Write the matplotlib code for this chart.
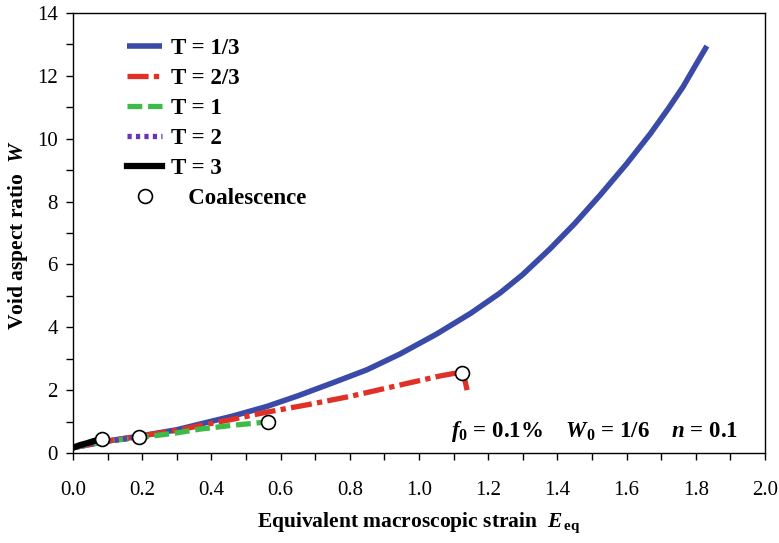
import matplotlib
matplotlib.use('Agg')
import matplotlib.pyplot as plt

plt.rcParams['font.family'] = 'Liberation Serif'
plt.rcParams['mathtext.fontset'] = 'custom'
plt.rcParams['mathtext.rm'] = 'Liberation Serif:bold'
plt.rcParams['mathtext.it'] = 'Liberation Serif:bold:italic'
plt.rcParams['mathtext.bf'] = 'Liberation Serif:bold'

# data
x13 = [0.0, 0.1, 0.2, 0.3, 0.367, 0.46, 0.56, 0.65, 0.75, 0.85, 0.945, 1.05, 1.15, 1.234,
       1.3, 1.379, 1.45, 1.523, 1.6, 1.668, 1.72, 1.763, 1.8, 1.832]
y13 = [0.17, 0.38, 0.55, 0.74, 0.92, 1.17, 1.48, 1.82, 2.23, 2.65, 3.15, 3.78, 4.45, 5.09,
       5.68, 6.5, 7.3, 8.2, 9.2, 10.15, 10.95, 11.65, 12.35, 12.95]
x23 = [0.0, 0.1, 0.2, 0.3, 0.367, 0.46, 0.56, 0.68, 0.8, 0.9, 1.0, 1.06, 1.1, 1.124]
y23 = [0.17, 0.38, 0.55, 0.72, 0.87, 1.07, 1.3, 1.54, 1.8, 2.05, 2.3, 2.45, 2.53, 2.55]
x23_drop = [1.124, 1.133, 1.139]
y23_drop = [2.55, 2.3, 2.0]
x1 = [0.0, 0.1, 0.2, 0.3, 0.367, 0.46, 0.564]
y1 = [0.17, 0.38, 0.5, 0.64, 0.76, 0.88, 0.99]
x2 = [0.0, 0.05, 0.1, 0.15, 0.19]
y2 = [0.17, 0.3, 0.38, 0.45, 0.5]
x3 = [0.0, 0.02, 0.04, 0.06, 0.085]
y3 = [0.17, 0.25, 0.31, 0.38, 0.45]
coal_x = [0.085, 0.19, 0.564, 1.124]
coal_y = [0.45, 0.5, 0.99, 2.55]

fig = plt.figure(figsize=(7.79, 5.43), dpi=100)
ax = fig.add_axes([73/779, 90/543, 692/779, 440/543])

red_dash = (4, 1, 1, 1)
ax.plot(x13, y13, color='#3a4aa8', lw=4, solid_capstyle='butt', solid_joinstyle='round',
        label='T = 1/3')
ax.plot(x23, y23, color='#e03127', lw=3.8, dashes=red_dash, label='T = 2/3')
ax.plot(x23_drop, y23_drop, color='#e03127', lw=3.8, dashes=red_dash)
ax.plot(x1, y1, color='#3dbb48', lw=3.8, dashes=(2.8, 1.1), label='T = 1')
ax.plot(x2, y2, color='#6a35b0', lw=3.8, dashes=(0.8, 0.8), label='T = 2')
ax.plot(x3, y3, color='black', lw=4.5, label='T = 3')
ax.plot(coal_x, coal_y, 'o', ms=10, mfc='white', mec='black', mew=1.2, ls='none',
        label='   Coalescence')

ax.set_xlim(0, 2)
ax.set_ylim(0, 14)
ax.set_xticks([0.0, 0.2, 0.4, 0.6, 0.8, 1.0, 1.2, 1.4, 1.6, 1.8, 2.0])
ax.set_xticks([0.1, 0.3, 0.5, 0.7, 0.9, 1.1, 1.3, 1.5, 1.7, 1.9], minor=True)
ax.set_yticks(range(0, 15, 2))
ax.set_yticks(range(1, 14, 2), minor=True)
ax.set_xticklabels(['%.1f' % v for v in ax.get_xticks()])
ax.tick_params(which='both', direction='out', length=5, width=1)
ax.tick_params(axis='x', labelsize=15, pad=15)
ax.tick_params(axis='y', labelsize=15, pad=6)
for s in ax.spines.values():
    s.set_linewidth(1)

ax.set_xlabel(r'Equivalent macroscopic strain  $E_{\,\mathrm{eq}}$', fontsize=15.5, fontweight='bold')
ax.xaxis.set_label_coords(0.5, -0.13)
ax.set_ylabel(r'Void aspect ratio  $W$', fontsize=15.5, fontweight='bold')
ax.yaxis.set_label_coords(-0.062, 0.495)

ax.text(0.961, 0.048, r'$f_0$ = 0.1%    $W_0$ = 1/6    $n$ = 0.1', transform=ax.transAxes,
        ha='right', va='center', fontsize=16.5, fontweight='bold')

leg = ax.legend(loc='upper left', bbox_to_anchor=(0.078, 0.944), frameon=False,
                prop={'weight': 'bold', 'size': 16.5}, handlelength=1.55, labelspacing=0.39,
                handletextpad=0.35, borderpad=0, borderaxespad=0)

fig.savefig('out.png', dpi=100)
